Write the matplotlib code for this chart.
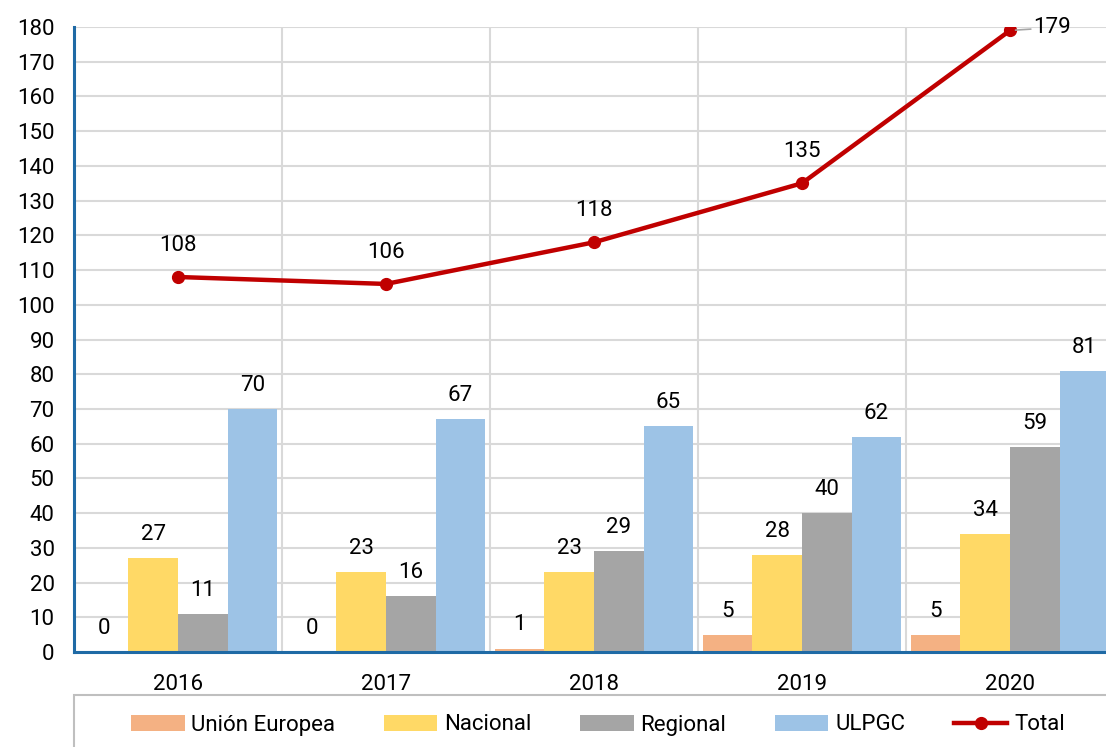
import matplotlib.pyplot as plt
from matplotlib.patches import Rectangle
import numpy as np

plt.rcParams['font.family'] = ['Roboto', 'DejaVu Sans']

years = ['2016', '2017', '2018', '2019', '2020']
union_europea = [0, 0, 1, 5, 5]
nacional = [27, 23, 23, 28, 34]
regional = [11, 16, 29, 40, 59]
ulpgc = [70, 67, 65, 62, 81]
total = [108, 106, 118, 135, 179]

series = [('Unión Europea', union_europea, '#F4B183'),
          ('Nacional', nacional, '#FFD966'),
          ('Regional', regional, '#A5A5A5'),
          ('ULPGC', ulpgc, '#9DC3E6')]

fig = plt.figure(figsize=(11.06, 7.47), dpi=100)
# axes runs slightly past the right edge, like the original export
ax = fig.add_axes([74/1106, 95/747, 1040/1106, 625/747])

x = np.arange(len(years))
w = 0.238
offsets = [-1.5, -0.5, 0.5, 1.5]
fs = 16

handles = []
for (name, vals, col), off in zip(series, offsets):
    b = ax.bar(x + off*w, vals, w, color=col, label=name, zorder=2)
    handles.append(b)
    for xi, v in zip(x, vals):
        ax.annotate(str(v), (xi + off*w, v), xytext=(0, 17), textcoords='offset points',
                    ha='center', va='center', fontsize=fs, color='black')

line, = ax.plot(x, total, color='#C00000', lw=3.2, marker='o', ms=8.5, label='Total', zorder=3)
handles.append(line)
for xi, v in zip(x[:-1], total[:-1]):
    ax.annotate(str(v), (xi, v), xytext=(0, 23), textcoords='offset points',
                ha='center', va='center', fontsize=fs)
ax.annotate(str(total[-1]), (x[-1], total[-1]), xytext=(17, 2), textcoords='offset points',
            ha='left', va='center', fontsize=fs,
            arrowprops=dict(arrowstyle='-', color='#A6A6A6', lw=1.2, shrinkA=0, shrinkB=4))

ax.set_xlim(-0.5, 4.5)
ax.set_ylim(0, 180)
ax.set_yticks(np.arange(0, 181, 10))
ax.set_xticks(x)
ax.set_xticklabels(years)
ax.set_xticks(np.arange(0.5, 4.6, 1), minor=True)
ax.tick_params(axis='both', which='both', length=0, labelsize=fs)
ax.tick_params(axis='y', pad=14)
ax.tick_params(axis='x', pad=16)

ax.yaxis.grid(True, color='#D9D9D9', lw=1.5, zorder=0)
ax.xaxis.grid(True, which='minor', color='#D9D9D9', lw=1.5, zorder=0)
ax.set_axisbelow(True)

for s in ['top', 'right']:
    ax.spines[s].set_visible(False)
for s in ['left', 'bottom']:
    ax.spines[s].set_color('#1F6AA5')
    ax.spines[s].set_linewidth(2.2)
    ax.spines[s].set_zorder(4)

# legend box
fig.patches.append(Rectangle((74/1106, -0.05), 1.0, (747-695)/747 + 0.05,
                             transform=fig.transFigure, fill=False,
                             edgecolor='#BFBFBF', lw=1.5))
fig.legend(handles=handles, loc='center', bbox_to_anchor=(598/1106, 22/747),
           ncol=5, frameon=False, fontsize=fs, handlelength=2.4, handleheight=0.7,
           handletextpad=0.3, columnspacing=2.2)

plt.savefig('out.png', dpi=100)
